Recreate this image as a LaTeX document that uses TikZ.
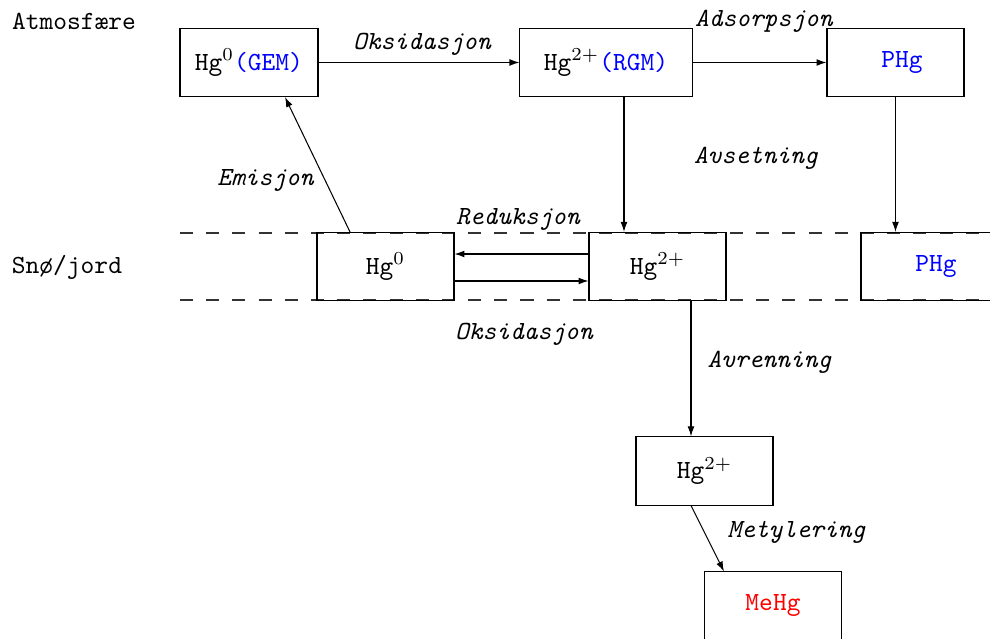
\documentclass[tikz,border=0pt]{standalone}
\usetikzlibrary{arrows.meta,calc}
\begin{document}
\begin{tikzpicture}[x=0.3818pt,y=-0.3818pt,font=\ttfamily,
  box/.style={draw,line width=0.4pt,minimum width=52.3pt,minimum height=26pt,inner sep=0pt},
  arr/.style={-{Latex[length=3.8pt,width=2.6pt]},line width=0.4pt},
  lbl/.style={inner sep=0pt,font=\ttfamily\itshape},
  side/.style={inner sep=0pt,font=\ttfamily},
  sep/.style={dash pattern=on 5pt off 5pt,line width=0.4pt,draw=black!80}]
\useasboundingbox (0,0) rectangle (990,639);
% separator lines
\draw[sep] (180,233) -- (990,233);
\draw[sep] (180,300) -- (990,300);
% boxes
\node[box,minimum width=52.7pt] (gem) at (249,62.5) {Hg$^{0}$\textcolor{blue}{(GEM)}};
\node[box,minimum width=65.7pt] (rgm) at (606,62.5) {Hg$^{2+}$\textcolor{blue}{(RGM)}};
\node[box] (phgA) at (895.5,62.5) {\hspace*{0.5em}\textcolor{blue}{PHg}};
\node[box] (hg0) at (385.5,266.5) {Hg$^{0}$};
\node[box] (hg2) at (657.5,266.5) {Hg$^{2+}$};
\node[box] (phgB) at (929.5,266.5) {\hspace*{0.5em}\textcolor{blue}{PHg}};
\node[box] (hg2low) at (704.5,471) {Hg$^{2+}$};
\node[box] (mehg) at (773,606) {\textcolor{red}{MeHg}};
% side labels
\node[side] (atm) at (74,21) {Atmosfære};
\node[side] (snow) at (67,267) {Snø/jord};
% connectors
\draw[arr] (gem) -- (rgm);
\draw[arr] (rgm) -- (phgA);
\coordinate (r1) at ($(rgm.south)+(18,0)$);
\draw[arr] (r1) -- (r1 |- hg2.north);
\draw[arr] (phgA.south) -- (phgA.south |- phgB.north);
\draw[arr] ($(hg0.north)+(-35.5,0)$) -- ($(gem.south)+(36,0)$);
\coordinate (r2) at ($(hg2.west)+(0,-12.5)$);
\draw[arr] (r2) -- (hg0.east |- r2);
\coordinate (r3) at ($(hg0.east)+(0,14.5)$);
\draw[arr] (r3) -- (hg2.west |- r3);
\coordinate (r4) at ($(hg2.south)+(33.5,0)$);
\draw[arr] (r4) -- (r4 |- hg2low.north);
\draw[arr] ($(hg2low.south)+(-13.5,0)$) -- ($(mehg.north)+(-49,0)$);
% edge labels
\node[lbl] (l1) at (422,44) {Oksidasjon};
\node[lbl] (l2) at (764,21) {Adsorpsjon};
\node[lbl] (l3) at (756,158) {Avsetning};
\node[lbl] (l4) at (265.5,180) {Emisjon};
\node[lbl] (l5) at (518,219) {Reduksjon};
\node[lbl] (l6) at (524,334) {Oksidasjon};
\node[lbl] (l7) at (769.5,362) {Avrenning};
\node[lbl] (l8) at (796.5,532) {Metylering};
\end{tikzpicture}
\end{document}
